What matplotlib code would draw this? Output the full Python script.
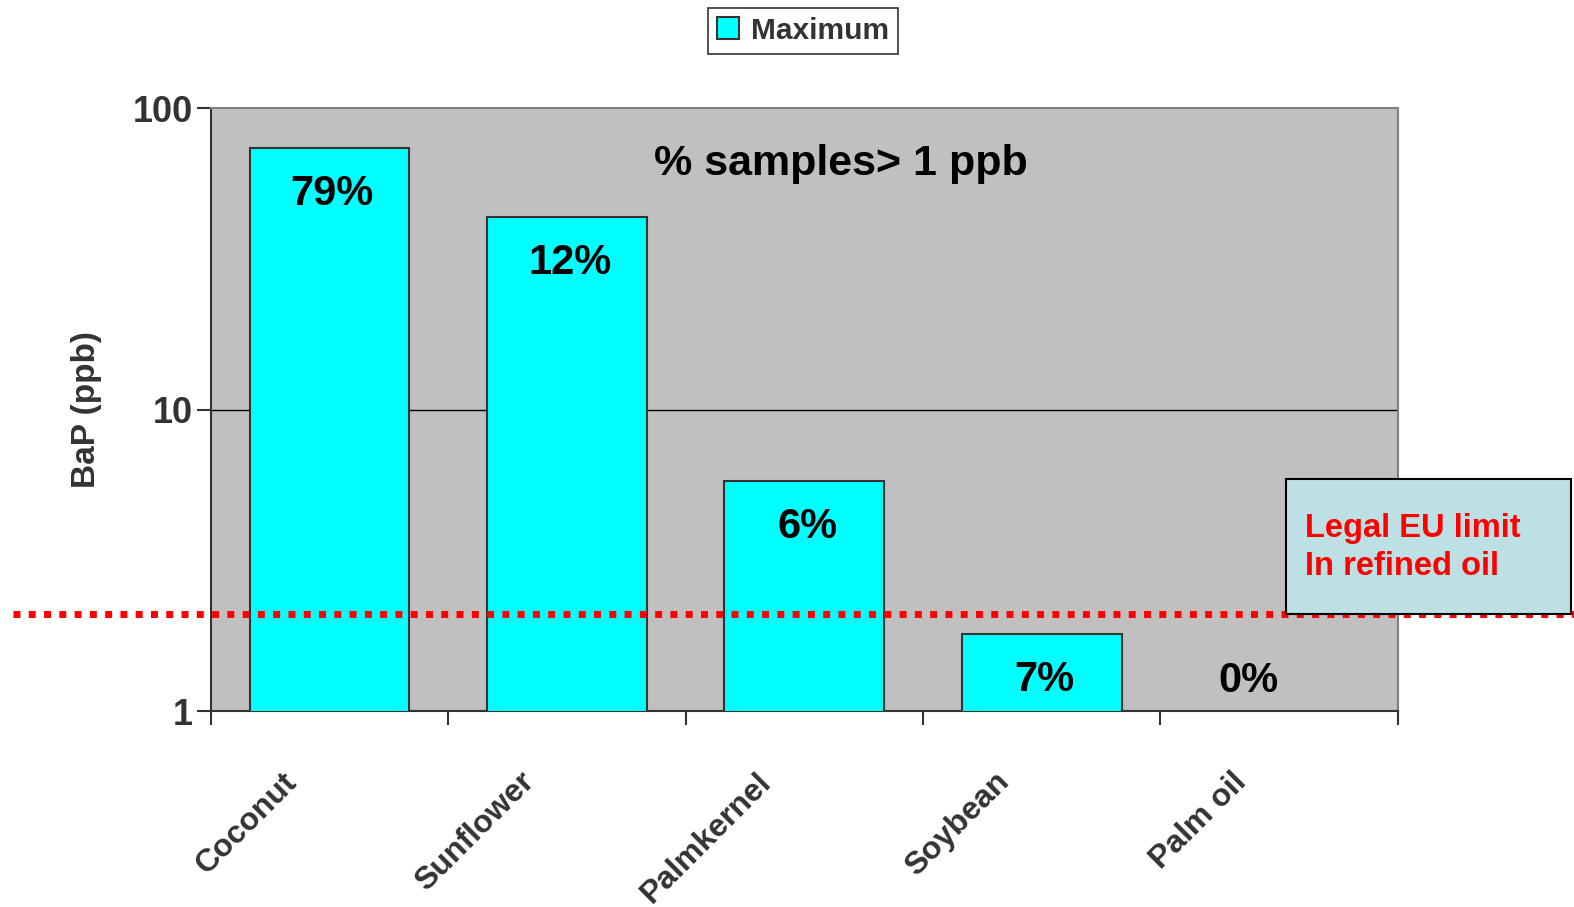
import matplotlib
matplotlib.use('Agg')
import matplotlib.pyplot as plt
import matplotlib.transforms as mtransforms
from matplotlib.patches import Patch, Rectangle
from matplotlib.lines import Line2D
import numpy as np

plt.rcParams['font.family'] = ['Liberation Sans', 'DejaVu Sans']
plt.rcParams['font.weight'] = 'bold'
plt.rcParams['axes.labelweight'] = 'bold'

# data
oils = ['Coconut', 'Sunflower', 'Palmkernel', 'Soybean', 'Palm oil']
bap_max = [74, 43.5, 5.8, 1.8, 0.9]          # ppb, palm oil below 1
pct_above_1ppb = ['79%', '12%', '6%', '7%', '0%']
eu_limit = 2.1

dark = '#333333'

fig = plt.figure(figsize=(15.74, 9.07), dpi=100)
ax = fig.add_axes([0.134, 0.2157, 0.754, 0.6648])
ax.set_facecolor('#c0c0c0')

x = np.arange(len(oils))
ax.bar(x, bap_max, width=0.673, color='#00ffff', edgecolor=dark, linewidth=1.5, zorder=3)

ax.set_yscale('log')
ax.set_ylim(1, 100)
ax.set_xlim(-0.5, len(oils) - 0.5)
ax.set_yticks([1, 10, 100])
ax.set_yticklabels(['1', '10', '100'])
ax.yaxis.set_minor_locator(matplotlib.ticker.NullLocator())
ax.tick_params(axis='y', length=10, width=1.5, color=dark, pad=3, labelsize=26, labelcolor=dark)
ax.axhline(10, color='black', lw=1, zorder=1)

# category boundaries as ticks, names drawn separately
ax.set_xticks(np.arange(-0.5, len(oils)))
ax.set_xticklabels([])
ax.tick_params(axis='x', length=10, width=1.5, color=dark, direction='out')
for i, name in enumerate(oils):
    tr = ax.get_xaxis_transform() + mtransforms.ScaledTranslation(-0.37, -0.66, fig.dpi_scale_trans)
    ax.text(i, 0, name, transform=tr, rotation=45, rotation_mode='anchor',
            ha='right', va='center', fontsize=23, color=dark)

for s in ['left', 'bottom']:
    ax.spines[s].set_color(dark)
    ax.spines[s].set_linewidth(1.5)
for s in ['top', 'right']:
    ax.spines[s].set_color('#808080')
    ax.spines[s].set_linewidth(1.5)

ax.set_ylabel('BaP (ppb)', fontsize=24, color=dark, fontweight='bold')
ax.yaxis.set_label_coords(-0.092, 0.5)

# percentage labels inside the bars
for i, (v, lab) in enumerate(zip(bap_max, pct_above_1ppb)):
    if v >= 1:
        ax.annotate(lab, xy=(i, v), xytext=(2, -33), textcoords='offset points',
                    ha='center', va='center', fontsize=30, color='black', zorder=5)
    else:
        ax.annotate(lab, xy=(i, 1), xytext=(-22, 22), textcoords='offset points',
                    ha='center', va='center', fontsize=30, color='black', zorder=5)

ax.text(0.531, 0.908, '% samples> 1 ppb', transform=ax.transAxes, ha='center', va='center',
        fontsize=31, color='black')

# EU limit line across the whole figure
tr_line = mtransforms.blended_transform_factory(fig.transFigure, ax.transData)
fig.add_artist(Line2D([0.008, 1.0], [eu_limit, eu_limit], transform=tr_line, color='#ff0000',
                      lw=5, linestyle=(0, (1, 1.2)), dash_capstyle='butt', zorder=6))

fig.add_artist(Rectangle((0.817, 0.323), 0.181, 0.149, transform=fig.transFigure,
                         facecolor='#bce0e3', edgecolor='black', lw=1.5, zorder=7))
fig.text(0.829, 0.396, 'Legal EU limit\nIn refined oil', ha='left', va='center',
         fontsize=23.5, color='#ff0000', linespacing=1.3, zorder=8)

leg = fig.legend(handles=[Patch(facecolor='#00ffff', edgecolor=dark, lw=1.5, label='Maximum')],
                 loc='center', bbox_to_anchor=(0.51, 0.966), fontsize=21.5, frameon=True,
                 fancybox=False, edgecolor='black', handlelength=0.75, handleheight=0.75,
                 handletextpad=0.4, borderpad=0.3, labelcolor=dark)
leg.get_frame().set_linewidth(1.2)

fig.savefig('out.png', dpi=100)
